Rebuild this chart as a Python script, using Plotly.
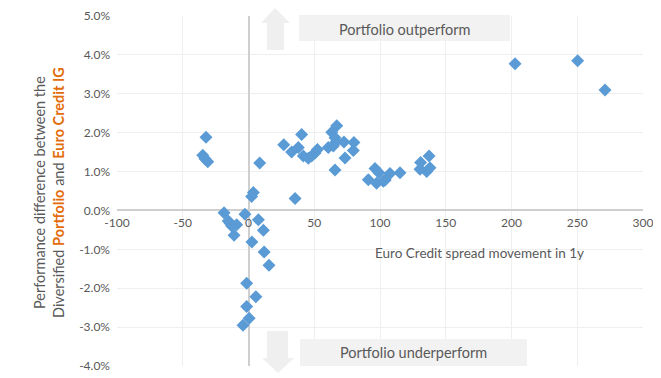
import plotly.graph_objects as go

# Data: Euro Credit spread movement (bp) vs performance difference (%)
spread_move = [
    -32.3, -34.8, -33.1, -31.0,
    8.5, 26.8, 32.8, 40.4, 37.9, 41.7, 45.5, 48.0, 50.6, 52.4,
    3.7, 2.4, 35.4,
    67.1, 63.3, 65.8, 60.7, 64.5, 66.5, 72.6, 80.2, 79.7, 73.4, 65.8,
    96.2, 99.2, 91.1, 97.4, 102.5, 107.6, 115.2, 104.0,
    137.3, 130.9, 130.4, 138.0, 135.5,
    202.7, 250.3, 271.1,
    -18.6, -2.7, -15.4, -12.8, -9.0, -11.0, -14.0,
    7.5, 11.3, 2.6, 11.9, 15.6,
    -1.4, 5.6, -1.4, 0.5, -4.2,
]
perf_diff = [
    1.88, 1.42, 1.33, 1.25,
    1.22, 1.69, 1.50, 1.95, 1.62, 1.40, 1.34, 1.40, 1.48, 1.57,
    0.46, 0.36, 0.31,
    2.18, 2.01, 1.87, 1.62, 1.66, 1.76, 1.76, 1.75, 1.54, 1.35, 1.04,
    1.08, 0.97, 0.79, 0.70, 0.75, 0.95, 0.97, 0.78,
    1.40, 1.23, 1.06, 1.10, 1.00,
    3.77, 3.85, 3.10,
    -0.06, -0.10, -0.27, -0.40, -0.37, -0.64, -0.33,
    -0.24, -0.51, -0.81, -1.07, -1.41,
    -1.87, -2.22, -2.47, -2.77, -2.95,
]

y_ticks = [-4, -3, -2, -1, 0, 1, 2, 3, 4, 5]
x_ticks = [-100, -50, 0, 50, 100, 150, 200, 250, 300]

# page body has an 8px default margin; compensate
OFF = 8
W, H = 661 - OFF, 378 - OFF
L, R, T, B = 117 - OFF, 18, 16 - OFF, 12
PW, PH = W - L - R, H - T - B


def px(sx):
    return (sx - OFF - L) / PW


def py(sy):
    return (H - B - (sy - OFF)) / PH


GREY_TXT = "#595959"
ORANGE = "#E36C0A"
BLUE = "#5B9BD5"
FONT = "Lato"

fig = go.Figure()
fig.add_trace(go.Scatter(
    x=spread_move, y=perf_diff, mode="markers",
    marker=dict(symbol="diamond", size=10, color=BLUE),
    showlegend=False, hoverinfo="x+y",
))

fig.update_layout(
    width=W, height=H,
    margin=dict(l=L, r=R, t=T, b=B, autoexpand=False),
    paper_bgcolor="white", plot_bgcolor="white",
    font=dict(family=FONT, color=GREY_TXT, size=12),
    xaxis=dict(
        range=[-100, 300], tickvals=x_ticks, ticktext=[str(v) for v in x_ticks],
        anchor="free", position=4 / 9, automargin=False,
        showgrid=True, gridcolor="#efefef", gridwidth=1,
        zeroline=True, zerolinecolor="#cfcfcf", zerolinewidth=2,
        showline=False, ticks="", tickfont=dict(size=12, color=GREY_TXT),
        ticklabelstandoff=4,
    ),
    yaxis=dict(
        range=[-4, 5], tickvals=y_ticks, automargin=False,
        ticktext=[f"{v:.1f}%" for v in y_ticks],
        showgrid=True, gridcolor="#efefef", gridwidth=1,
        zeroline=True, zerolinecolor="#cfcfcf", zerolinewidth=2,
        showline=False, ticks="", tickfont=dict(size=12, color=GREY_TXT),
        ticklabelstandoff=6,
    ),
)

shapes = []
# Up arrow (light grey block arrow)
up = [(275, 8), (290, 23), (284, 23), (284, 50), (267, 50), (267, 23), (261, 23)]
path = "M " + " L ".join(f"{px(a):.4f},{py(b):.4f}" for a, b in up) + " Z"
shapes.append(dict(type="path", xref="paper", yref="paper", path=path,
                   fillcolor="#efefef", line=dict(width=0), layer="below"))
# Down arrow
dn = [(267, 331), (288, 331), (288, 358), (294, 358), (278, 373), (262, 358), (267, 358)]
path = "M " + " L ".join(f"{px(a):.4f},{py(b):.4f}" for a, b in dn) + " Z"
shapes.append(dict(type="path", xref="paper", yref="paper", path=path,
                   fillcolor="#efefef", line=dict(width=0), layer="below"))
# Label boxes
shapes.append(dict(type="rect", xref="paper", yref="paper",
                   x0=px(299), x1=px(510), y0=py(41), y1=py(15),
                   fillcolor="#f2f2f2", line=dict(width=0), layer="above"))
shapes.append(dict(type="rect", xref="paper", yref="paper",
                   x0=px(300), x1=px(527), y0=py(366), y1=py(339),
                   fillcolor="#f2f2f2", line=dict(width=0), layer="above"))
fig.update_layout(shapes=shapes)

annotations = [
    dict(text="Portfolio outperform", xref="paper", yref="paper",
         x=px(404), y=py(29), xanchor="center", yanchor="middle", showarrow=False,
         font=dict(size=14.5, color=GREY_TXT, family=FONT)),
    dict(text="Portfolio underperform", xref="paper", yref="paper",
         x=px(413), y=py(352), xanchor="center", yanchor="middle", showarrow=False,
         font=dict(size=14.5, color=GREY_TXT, family=FONT)),
    dict(text="Euro Credit spread movement in 1y", xref="x", yref="y",
         x=176, y=-1.1, xanchor="center", yanchor="middle", showarrow=False,
         font=dict(size=13.5, color=GREY_TXT, family=FONT)),
    dict(text=("Performance difference between the<br>Diversified "
               f"<span style='color:{ORANGE}'><b>Portfolio</b></span> and "
               f"<span style='color:{ORANGE}'><b>Euro Credit IG</b></span>"),
         xref="paper", yref="paper", x=px(49), y=py(193),
         xanchor="center", yanchor="middle",
         textangle=-90, showarrow=False, align="center",
         font=dict(size=14.5, color=GREY_TXT, family=FONT)),
]
fig.update_layout(annotations=annotations)

fig.write_html("out.html")
